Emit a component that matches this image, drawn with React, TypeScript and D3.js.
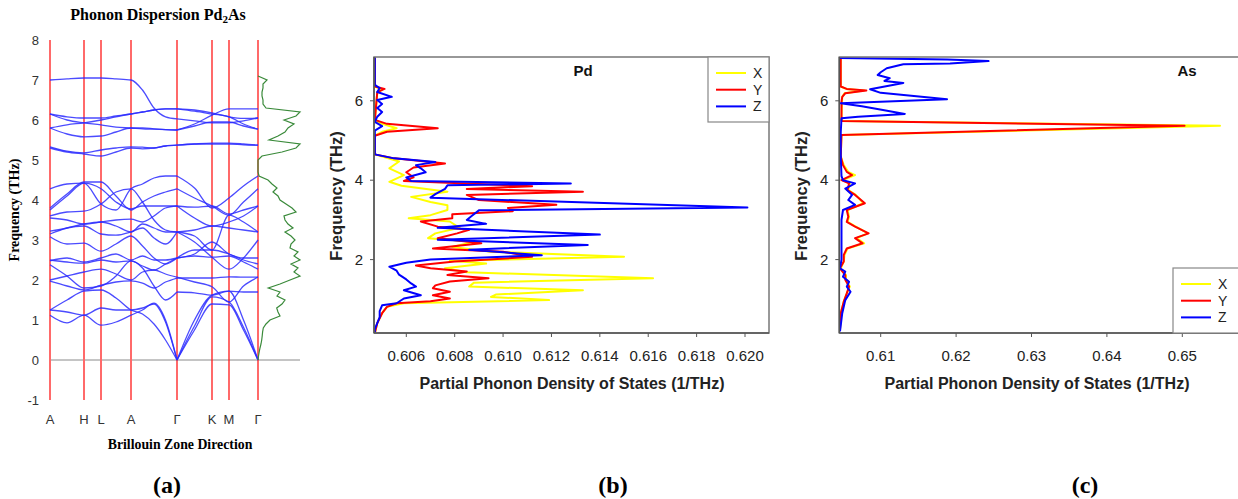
import React from "react";
import * as d3 from "d3";

const W = 1238;
const H = 499;

// ---- panel (a): dispersion ----
// k positions along A-H-L-A-Γ-K-M-Γ (path length units)
const kGrid = [0, 17, 34, 51, 66, 81, 92.5, 104, 115.5, 127, 144.5, 162, 179, 193.5, 208];
const kTicks = [0, 34, 51, 81, 127, 162, 179, 208];
const kLabels = ["A", "H", "L", "A", "Γ", "K", "M", "Γ"];
const dispTicks = [-1, 0, 1, 2, 3, 4, 5, 6, 7, 8];

const bandsLow = [
  [1.25, 1.2, 1.12, 1.3, 1.25, 1.25, 1.3, 1.4, 0.95, 0, 0.75, 1.4, 1.38, 0.75, 0],
  [1.12, 0.93, 1.12, 0.87, 0.95, 1.12, 1.25, 1.42, 1.0, 0, 0.85, 1.58, 1.45, 0.82, 0],
  [1.25, 1.5, 1.72, 1.75, 1.55, 1.25, 1.15, 0.9, 0.5, 0, 1.0, 1.62, 1.72, 1.0, 0],
  [1.97, 1.85, 1.75, 1.87, 1.95, 1.98, 1.92, 1.8, 1.95, 2.05, 2.05, 2.05, 2.08, 2.07, 2.07],
  [2.38, 2.1, 1.8, 1.85, 2.1, 2.48, 2.3, 1.85, 1.5, 1.7, 1.68, 1.62, 1.72, 1.7, 1.7],
  [2.0, 2.1, 2.2, 2.27, 2.15, 2.0, 2.2, 2.25, 2.15, 2.07, 1.95, 1.83, 1.45, 1.85, 2.07],
  [2.5, 2.45, 2.42, 2.5, 2.45, 2.48, 2.35, 2.25, 2.4, 2.55, 2.6, 2.57, 2.6, 2.45, 2.27],
  [2.48, 2.55, 2.45, 2.55, 2.65, 2.5, 2.6, 2.5, 2.5, 2.55, 2.75, 2.75, 2.65, 2.5, 2.4],
  [3.08, 2.9, 2.92, 2.72, 2.9, 3.1, 2.85, 2.55, 2.4, 2.55, 2.65, 2.95, 2.65, 2.55, 2.55],
  [3.15, 3.3, 3.35, 3.15, 3.12, 3.2, 3.3, 3.05, 2.9, 3.2, 2.95, 2.57, 2.27, 2.55, 3.0],
  [3.22, 3.3, 3.4, 3.45, 3.35, 3.2, 3.4, 3.3, 3.2, 3.2, 3.25, 3.35, 3.3, 3.25, 3.2],
  [3.55, 3.5, 3.4, 3.45, 3.5, 3.52, 3.45, 3.6, 3.8, 3.85, 3.55, 3.35, 3.45, 3.6, 3.85],
  [3.75, 4.1, 4.42, 4.28, 3.95, 3.78, 3.85, 3.85, 3.85, 3.85, 3.82, 3.85, 3.65, 3.75, 3.85],
  [3.8, 4.15, 4.45, 4.45, 4.1, 3.75, 3.95, 4.1, 4.2, 4.28, 4.05, 3.85, 3.62, 3.95, 4.28],
  [4.28, 4.4, 4.42, 3.9, 3.75, 4.28, 4.4, 4.55, 4.6, 4.6, 4.3, 3.8, 4.05, 4.35, 4.6],
  [3.6, 3.7, 3.72, 3.9, 4.2, 4.28, 3.95, 3.5, 3.25, 3.2, 3.1, 2.75, 3.62, 3.45, 3.2],
];

const bandsHigh = [
  [7.0, 7.03, 7.05, 7.05, 7.03, 7.0, 6.75, 6.3, 6.08, 6.03, 5.98, 5.93, 5.93, 5.98, 6.05],
  [6.15, 6.08, 6.05, 6.05, 6.1, 6.15, 6.2, 6.25, 6.28, 6.28, 6.22, 6.15, 6.08, 5.9, 5.77],
  [6.15, 6.0, 5.93, 5.88, 5.82, 5.8, 5.78, 5.77, 5.76, 5.75, 5.9, 6.12, 6.28, 6.28, 6.28],
  [5.8, 5.88, 5.93, 6.0, 6.08, 6.15, 6.2, 6.25, 6.28, 6.28, 6.25, 6.18, 6.08, 6.04, 6.05],
  [5.8, 5.65, 5.58, 5.6, 5.7, 5.8, 5.8, 5.78, 5.76, 5.75, 5.85, 5.95, 5.95, 5.85, 5.77],
  [5.33, 5.22, 5.18, 5.25, 5.3, 5.33, 5.32, 5.3, 5.35, 5.37, 5.4, 5.42, 5.42, 5.4, 5.37],
  [5.3, 5.2, 5.15, 5.1, 5.2, 5.3, 5.28, 5.3, 5.35, 5.37, 5.4, 5.4, 5.4, 5.38, 5.37],
];

// total DOS, 0.0 .. 7.1 THz in 0.1 steps (arb. units)
const dosTotal = [
  0, 0.5, 1.2, 2, 3, 3.7, 4.2, 4.6, 5.3, 8,
  12, 22, 20, 18.7, 24, 27, 19, 22, 10.3, 22,
  32, 42, 36, 40, 33, 42, 36, 40, 32, 33,
  37, 33, 27, 35, 30, 27, 26, 38, 34, 28,
  22, 20, 15, 19, 14, 10, 1, 0, 0, 0,
  0, 4, 24, 38, 42, 11, 20, 27, 30, 36,
  26, 38, 42, 8, 5, 5, 4, 4, 5, 5,
  9, 0,
];
const dosFreq = dosTotal.map((_, i) => i / 10);

// ---- panels (b), (c): partial DOS, [frequency, value] ----
const pdX = [
  [7.1, 0.6047], [6.36, 0.6047], [6.28, 0.605], [6.2, 0.6048], [5.52, 0.6047], [5.42, 0.605],
  [5.31, 0.6056], [5.22, 0.605], [5.12, 0.6047], [4.65, 0.6047], [4.47, 0.6057], [4.3, 0.6053],
  [4.13, 0.6059], [3.96, 0.6053], [3.86, 0.6058], [3.71, 0.6077], [3.58, 0.6062], [3.45, 0.607],
  [3.37, 0.6077], [3.25, 0.6077], [3.12, 0.607], [3.04, 0.6061], [2.96, 0.6078], [2.8, 0.6082],
  [2.66, 0.6072], [2.54, 0.6069], [2.45, 0.6088], [2.32, 0.6079], [2.2, 0.6095], [2.07, 0.615],
  [1.97, 0.6078], [1.9, 0.6093], [1.78, 0.6076], [1.68, 0.6085], [1.53, 0.6162], [1.42, 0.6088],
  [1.32, 0.6086], [1.23, 0.6133], [1.12, 0.6097], [1.06, 0.6095], [0.98, 0.6119], [0.9, 0.6059],
  [0.81, 0.6052], [0.65, 0.605], [0.4, 0.6048], [0.15, 0.6047],
];
const pdY = [
  [7.1, 0.6047], [6.36, 0.6047], [6.3, 0.6051], [6.22, 0.6048], [5.52, 0.6047], [5.42, 0.6052],
  [5.31, 0.6073], [5.22, 0.6052], [5.12, 0.6047], [4.65, 0.6047], [4.55, 0.6055], [4.42, 0.6076],
  [4.32, 0.6063], [4.2, 0.606], [4.07, 0.6063], [3.98, 0.6059], [3.85, 0.6112], [3.78, 0.6085],
  [3.71, 0.6133], [3.63, 0.6085], [3.5, 0.609], [3.38, 0.6122], [3.3, 0.6102], [3.22, 0.6104],
  [3.14, 0.6079], [3.04, 0.6079], [2.96, 0.6066], [2.83, 0.6073], [2.75, 0.6086], [2.66, 0.6081],
  [2.54, 0.6073], [2.41, 0.6091], [2.28, 0.6071], [2.2, 0.61], [2.07, 0.6112], [1.95, 0.608],
  [1.85, 0.6064], [1.78, 0.607], [1.7, 0.6085], [1.61, 0.6077], [1.53, 0.6094], [1.45, 0.6078],
  [1.35, 0.6072], [1.28, 0.6071], [1.19, 0.6078], [1.1, 0.6071], [1.02, 0.6078], [0.95, 0.607],
  [0.9, 0.6056], [0.81, 0.6052], [0.65, 0.605], [0.4, 0.6048], [0.15, 0.6047],
];
const pdZ = [
  [7.1, 0.6047], [6.4, 0.6047], [6.32, 0.6049], [6.22, 0.6048], [6.1, 0.6054], [6.02, 0.6048],
  [5.92, 0.605], [5.82, 0.6048], [5.72, 0.605], [5.6, 0.6048], [5.47, 0.6047], [5.36, 0.605],
  [5.25, 0.6047], [4.65, 0.6047], [4.55, 0.6055], [4.46, 0.6072], [4.38, 0.6064], [4.3, 0.6066],
  [4.2, 0.6068], [4.07, 0.606], [3.98, 0.6062], [3.92, 0.6128], [3.87, 0.6077], [3.78, 0.6076],
  [3.65, 0.6072], [3.56, 0.607], [3.31, 0.6201], [3.24, 0.609], [3.1, 0.6087], [3.0, 0.6085],
  [2.9, 0.6093], [2.8, 0.6073], [2.63, 0.614], [2.5, 0.6073], [2.37, 0.6135], [2.25, 0.6086],
  [2.11, 0.6116], [2.0, 0.607], [1.92, 0.606], [1.82, 0.6053], [1.72, 0.6056], [1.62, 0.6057],
  [1.5, 0.606], [1.4, 0.6062], [1.32, 0.6064], [1.23, 0.6059], [1.1, 0.6066], [1.02, 0.6059],
  [0.9, 0.6056], [0.85, 0.605], [0.7, 0.6049], [0.55, 0.6049], [0.4, 0.6048], [0.25, 0.6047],
  [0.15, 0.6047],
];

const asX = [
  [7.1, 0.6047], [6.36, 0.6047], [6.3, 0.6054], [6.26, 0.6078], [6.19, 0.6052], [6.1, 0.6049],
  [5.6, 0.6048], [5.49, 0.6048], [5.37, 0.655], [5.14, 0.6048], [4.6, 0.6047], [4.38, 0.6051],
  [4.21, 0.6057], [4.13, 0.6066], [4.0, 0.6049], [3.92, 0.6059], [3.75, 0.6057], [3.63, 0.6067],
  [3.42, 0.6077], [3.25, 0.6056], [3.08, 0.6058], [2.95, 0.6056], [2.83, 0.6067], [2.66, 0.6083],
  [2.54, 0.6068], [2.41, 0.6078], [2.28, 0.6056], [2.12, 0.6052], [1.95, 0.6051], [1.78, 0.6047],
  [1.61, 0.6054], [1.49, 0.6054], [1.32, 0.6059], [1.15, 0.6055], [0.94, 0.6051], [0.65, 0.6047],
  [0.23, 0.6046],
];
const asY = [
  [7.1, 0.6047], [6.36, 0.6047], [6.3, 0.6055], [6.26, 0.6081], [6.19, 0.6053], [6.1, 0.6049],
  [5.98, 0.6048], [5.6, 0.6048], [5.49, 0.6048], [5.37, 0.6503], [5.14, 0.6048], [4.6, 0.6047],
  [4.38, 0.605], [4.21, 0.6055], [4.13, 0.6062], [4.0, 0.6048], [3.92, 0.6058], [3.75, 0.6056],
  [3.63, 0.6066], [3.42, 0.6079], [3.25, 0.6055], [3.08, 0.6057], [2.95, 0.6055], [2.83, 0.6066],
  [2.66, 0.6084], [2.54, 0.6066], [2.41, 0.6076], [2.28, 0.6055], [2.12, 0.6051], [1.95, 0.6051],
  [1.78, 0.6046], [1.61, 0.6053], [1.49, 0.6053], [1.32, 0.6058], [1.15, 0.6055], [0.94, 0.6051],
  [0.65, 0.6047], [0.23, 0.6046],
];
const asZ = [
  [7.1, 0.6046], [7.08, 0.6046], [7.04, 0.6188], [7.0, 0.6243], [6.94, 0.6192], [6.92, 0.613],
  [6.82, 0.6108], [6.72, 0.61], [6.65, 0.6096], [6.57, 0.6112], [6.5, 0.6105], [6.45, 0.613],
  [6.29, 0.6086], [6.2, 0.61], [6.04, 0.6188], [5.94, 0.6047], [5.86, 0.6075], [5.77, 0.6103],
  [5.67, 0.6132], [5.6, 0.607], [5.56, 0.6048], [5.2, 0.6047], [4.6, 0.6047], [4.1, 0.6048],
  [4.0, 0.605], [3.92, 0.6066], [3.79, 0.6053], [3.63, 0.6062], [3.5, 0.6057], [3.38, 0.6066],
  [3.25, 0.605], [3.0, 0.6048], [2.5, 0.6048], [2.0, 0.6048], [1.78, 0.6046], [1.7, 0.6053],
  [1.57, 0.605], [1.44, 0.6058], [1.32, 0.6055], [1.19, 0.606], [0.98, 0.6053], [0.65, 0.6049],
  [0.19, 0.6046],
];

const seriesNames = ["X", "Y", "Z"];
const seriesColors = ["#ffff00", "#ff0000", "#0000ff"];
const freqTicks = [2, 4, 6];
const pdTicks = [0.606, 0.608, 0.61, 0.612, 0.614, 0.616, 0.618, 0.62];
const asTicks = [0.61, 0.62, 0.63, 0.64, 0.65];

const serif = "'Liberation Serif', 'Times New Roman', serif";
const sans = "'Liberation Sans', Arial, sans-serif";

const PanelA = () => {
  const xk = d3.scaleLinear().domain([0, 208]).range([50, 258]);
  const yf = d3.scaleLinear().domain([-1, 8]).range([400, 40]);
  const xd = d3.scaleLinear().domain([0, 42]).range([258, 300]);

  // draw each band in two pieces so the Γ point keeps its kink
  const piece = (vals: number[], offset: number) =>
    d3
      .line<number>()
      .x((_, i) => xk(kGrid[i + offset]))
      .y((d) => yf(d))
      .curve(d3.curveMonotoneX)(vals) as string;

  const dosLine = d3
    .line<number>()
    .x((d) => xd(d))
    .y((_, i) => yf(dosFreq[i]));

  return (
    <g>
      <text x={158} y={20} textAnchor="middle" fontFamily={serif} fontWeight="bold" fontSize={16}>
        Phonon Dispersion Pd
        <tspan fontSize={11} dy={3}>2</tspan>
        <tspan dy={-3}>As</tspan>
      </text>
      {dispTicks.map((t) => (
        <text key={t} x={39} y={yf(t)} dy="0.35em" textAnchor="end" fontFamily={sans} fontSize={13} fill="#333">
          {t}
        </text>
      ))}
      <line x1={50} x2={300} y1={yf(0)} y2={yf(0)} stroke="#8a8a8a" strokeWidth={1} />
      {kTicks.map((k, i) => (
        <line
          key={i}
          x1={xk(k)}
          x2={xk(k)}
          y1={yf(8)}
          y2={yf(-1)}
          stroke={i < 4 ? "#ff6a6a" : "#ff1a1a"}
          strokeWidth={i < 4 ? 2 : 1.3}
        />
      ))}
      {bandsLow.concat(bandsHigh).map((b, i) => (
        <g key={i}>
          <path d={piece(b.slice(0, 10), 0)} fill="none" stroke="#2b2bff" strokeOpacity={0.85} strokeWidth={1.3} />
          <path d={piece(b.slice(9), 9)} fill="none" stroke="#2b2bff" strokeOpacity={0.85} strokeWidth={1.3} />
        </g>
      ))}
      <path d={dosLine(dosTotal) as string} fill="none" stroke="#3a8a3a" strokeWidth={1.2} />
      {kTicks.map((k, i) => (
        <text key={i} x={xk(k)} y={424} textAnchor="middle" fontFamily={sans} fontSize={13} fill="#333">
          {kLabels[i]}
        </text>
      ))}
      <text x={180} y={449} textAnchor="middle" fontFamily={serif} fontWeight="bold" fontSize={13.8}>
        Brillouin Zone Direction
      </text>
      <text
        transform={`translate(19,210) rotate(-90)`}
        textAnchor="middle"
        fontFamily={serif}
        fontWeight="bold"
        fontSize={14}
      >
        Frequency (THz)
      </text>
    </g>
  );
};

const yF = d3.scaleLinear().domain([0, 7]).range([339, 61.1]);

type PdosProps = {
  id: string;
  x: d3.ScaleLinear<number, number>;
  left: number;
  right: number;
  ticks: number[];
  fmt: (n: number) => string;
  series: number[][][];
  title: string;
  titleX: number;
  legend: { x: number; y: number; w: number; h: number };
  ylabelX: number;
  xlabelX: number;
};

const PdosPanel = ({ id, x, left, right, ticks, fmt, series, title, titleX, legend, ylabelX, xlabelX }: PdosProps) => {
  const top = 57;
  const bottom = 333;
  const line = d3
    .line<number[]>()
    .x((d) => x(d[1]))
    .y((d) => yF(d[0]));

  return (
    <g>
      <clipPath id={id}>
        <rect x={left} y={top} width={right - left} height={bottom - top} />
      </clipPath>
      <g clipPath={`url(#${id})`}>
        {series.map((s, i) => (
          <path key={i} d={line(s) as string} fill="none" stroke={seriesColors[i]} strokeWidth={2} strokeLinejoin="round" />
        ))}
      </g>
      <rect x={left} y={top} width={right - left} height={bottom - top} fill="none" stroke="#777" strokeWidth={1.5} />
      <line x1={left} x2={left} y1={top} y2={bottom} stroke="#555" strokeWidth={1.5} />
      <line x1={left} x2={right} y1={bottom} y2={bottom} stroke="#555" strokeWidth={1.5} />
      {freqTicks.map((t) => (
        <g key={t}>
          <line x1={left - 4} x2={left} y1={yF(t)} y2={yF(t)} stroke="#555" />
          <text x={left - 11} y={yF(t)} dy="0.35em" textAnchor="end" fontFamily={sans} fontSize={15} fill="#222">
            {t}
          </text>
        </g>
      ))}
      {ticks.map((t) => (
        <g key={t}>
          <line x1={x(t)} x2={x(t)} y1={bottom} y2={bottom + 4} stroke="#555" />
          <text x={x(t)} y={361} textAnchor="middle" fontFamily={sans} fontSize={15} fill="#222">
            {fmt(t)}
          </text>
        </g>
      ))}
      <text x={xlabelX} y={389} textAnchor="middle" fontFamily={sans} fontWeight="bold" fontSize={16} fill="#222">
        Partial Phonon Density of States (1/THz)
      </text>
      <text
        transform={`translate(${ylabelX},196) rotate(-90)`}
        textAnchor="middle"
        fontFamily={sans}
        fontWeight="bold"
        fontSize={16.5}
        fill="#222"
      >
        Frequency (THz)
      </text>
      <text x={titleX} y={76} textAnchor="middle" fontFamily={sans} fontWeight="bold" fontSize={15} fill="#111">
        {title}
      </text>
      <rect x={legend.x} y={legend.y} width={legend.w} height={legend.h} fill="white" stroke="#888" strokeWidth={1.2} />
      {seriesNames.map((n, i) => (
        <g key={n}>
          <line
            x1={legend.x + 8}
            x2={legend.x + 38}
            y1={legend.y + 16 + i * 16.7}
            y2={legend.y + 16 + i * 16.7}
            stroke={seriesColors[i]}
            strokeWidth={2}
          />
          <text x={legend.x + 45} y={legend.y + 16 + i * 16.7} dy="0.35em" fontFamily={sans} fontSize={14} fill="#222">
            {n}
          </text>
        </g>
      ))}
    </g>
  );
};

export default function App() {
  const xb = d3.scaleLinear().domain([0.606, 0.62]).range([406.3, 745]);
  const xc = d3.scaleLinear().domain([0.61, 0.65]).range([880.7, 1182.3]);

  return (
    <svg width={W} height={H} style={{ position: "absolute", left: 0, top: 0, background: "white" }}>
      <PanelA />
      <PdosPanel
        id="clipPd"
        x={xb}
        left={374}
        right={769}
        ticks={pdTicks}
        fmt={d3.format(".3f")}
        series={[pdX, pdY, pdZ]}
        title="Pd"
        titleX={583}
        legend={{ x: 708, y: 57, w: 61, h: 65 }}
        ylabelX={342}
        xlabelX={572}
      />
      <PdosPanel
        id="clipAs"
        x={xc}
        left={839.3}
        right={1245}
        ticks={asTicks}
        fmt={d3.format(".2f")}
        series={[asX, asY, asZ]}
        title="As"
        titleX={1187}
        legend={{ x: 1173, y: 268, w: 75, h: 65 }}
        ylabelX={807}
        xlabelX={1037}
      />
      {[
        ["(a)", 167],
        ["(b)", 613],
        ["(c)", 1085],
      ].map(([t, cx]) => (
        <text key={t as string} x={cx as number} y={493} textAnchor="middle" fontFamily={serif} fontWeight="bold" fontSize={24}>
          {t}
        </text>
      ))}
    </svg>
  );
}
